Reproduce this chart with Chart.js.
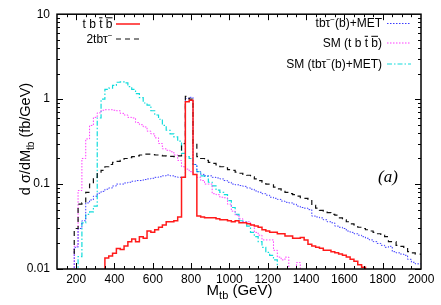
<!DOCTYPE html>
<html>
<head>
<meta charset="utf-8">
<script src="https://cdn.jsdelivr.net/npm/chart.js@4.4.1/dist/chart.umd.min.js"></script>
<style>
  html, body { margin: 0; padding: 0; background: #fff; }
  canvas { display: block; }
</style>
</head>
<body>
<canvas id="myChart" width="441" height="305"></canvas>
<script>
// bin centres of the M_tb histograms (GeV), bins are 20 GeV wide
const massBins = [
  200, 220, 240, 260, 280, 300, 320, 340, 360, 380,
  400, 420, 440, 460, 480, 500, 520, 540, 560, 580,
  600, 620, 640, 660, 680, 700, 720, 740, 760, 780,
  800, 820, 840, 860, 880, 900, 920, 940, 960, 980,
  1000, 1020, 1040, 1060, 1080, 1100, 1120, 1140, 1160, 1180,
  1200, 1220, 1240, 1260, 1280, 1300, 1320, 1340, 1360, 1380,
  1400, 1420, 1440, 1460, 1480, 1500, 1520, 1540, 1560, 1580,
  1600, 1620, 1640, 1660, 1680, 1700, 1720, 1740, 1760, 1780,
  1800, 1820, 1840, 1860, 1880, 1900, 1920, 1940, 1960, 1980,
  2000
];
const binWidth = 20;

// d sigma / dM_tb in fb/GeV, null = below the plotted range
const sigTbtb = [
  null, null, null, null, null, null, null, null, null, .0135,
  .0142, .0153, .0174, .017, .0186, .021, .0225, .021, .024, .023,
  .028, .027, .029, .031, .033, .036, .036, .037, .041, .12,
  .93, .97, .13, .042, .041, .04, .04, .04, .039, .038,
  .038, .037, .036, .037, .035, .035, .034, .033, .032, .031,
  .029, .028, .027, .027, .026, .026, .0245, .0245, .023, .023,
  .0235, .022, .0195, .0186, .018, .0175, .0166, .0166, .016, .0155,
  .015, .0145, .0138, .013, .0123, .0112, .0105, null, null, null,
  null, null, null, null, null, null, null, null, null, null,
  null
];
const sig2tbtau = [
  .015, .03, .058, .06, .08, .1, .12, .135, .145, .16,
  .17, .18, .185, .19, .2, .205, .21, .215, .22, .225,
  .225, .222, .22, .218, .215, .213, .212, .21, .215, .3,
  1.08, 1.0, .3, .21, .2, .19, .18, .175, .168, .16,
  .155, .148, .145, .138, .134, .13, .127, .122, .115, .11,
  .105, .1, .098, .092, .088, .085, .08, .077, .075, .072,
  .069, .068, .066, .056, .052, .049, .048, .046, .044, .043,
  .04, .038, .036, .034, .033, .031, .03, .029, .028, .027,
  .026, .025, .024, .021, .021, .019, .0185, .018, .016, .0155,
  .015
];
const sigTbtauMet = [
  null, .018, .03, .037, .06, .065, .072, .078, .082, .087,
  .09, .095, .1, .1, .103, .105, .108, .11, .11, .113,
  .115, .117, .12, .122, .125, .128, .125, .122, .12, .12,
  1.02, 1.05, .17, .14, .13, .125, .125, .12, .118, .115,
  .11, .105, .1, .098, .096, .094, .09, .087, .083, .08,
  .077, .074, .07, .068, .066, .063, .061, .06, .058, .055,
  .053, .052, .05, .042, .041, .04, .038, .036, .035, .032,
  .031, .03, .028, .027, .026, .025, .024, .023, .022, .021,
  .02, .019, .018, .0185, .016, .0155, .015, .0145, .013, .012,
  .0115
];
const smTbtb = [
  null, .0186, .084, .2, .34, .49, .61, .69, .74, .75,
  .75, .74, .73, .68, .65, .61, .6, .53, .5, .47,
  .42, .39, .35, .3, .26, .25, .24, .22, .19, .16,
  .15, .14, .13, .12, .11, .1, .1, .077, .075, .07,
  .069, .058, .048, .043, .039, .036, .036, .033, .027, .025,
  .022, .022, .022, .0166, .0138, .0128, .0138, null, null, .0119,
  null, null, null, null, null, null, null, null, null, null,
  null, null, null, null, null, null, null, null, null, null,
  null, null, null, null, null, null, null, null, null, null,
  null
];
const smTbtauMet = [
  null, null, .014, .035, .044, .047, .055, .6, 1.0, 1.3,
  1.35, 1.45, 1.58, 1.6, 1.55, 1.4, 1.3, 1.16, 1.04, .9,
  .85, .73, .65, .58, .49, .43, .39, .36, .32, .23,
  .21, .2, .17, .14, .125, .123, .105, .095, .085, .08,
  .075, .064, .053, .044, .037, .036, .032, .027, .024, .021,
  .018, .0157, .0145, .0128, null, null, null, null, null, null,
  null, null, null, null, null, null, null, null, null, null,
  null, null, null, null, null, null, null, null, null, null,
  null, null, null, null, null, null, null, null, null, null,
  null
];

const xTickLabels = [200, 400, 600, 800, 1000, 1200, 1400, 1600, 1800, 2000];
const yTickLabels = [0.01, 0.1, 1, 10];

const SANS = '"Liberation Sans", Arial, Helvetica, sans-serif';
const FLOOR = 1e-4; // lies below the axis, gives the drops to the bottom edge

const series = [
  { values: sigTbtb, color: '#ff1a1a', width: 1.5, dash: [] },
  { values: sig2tbtau, color: '#111111', width: 1.2, dash: [5, 4] },
  { values: sigTbtauMet, color: '#3b3bff', width: 1, dash: [1.5, 1.5] },
  { values: smTbtb, color: '#ff3cff', width: 1, dash: [1.5, 1.5] },
  { values: smTbtauMet, color: '#12dcdc', width: 1.2, dash: [5, 2, 1.5, 2] }
];

// legend text pieces: [text, kind] kind '' | 'sub' | 'sup' | 'bar'
const legendLeft = [
  { runs: [['t b ', ''], ['t', 'bar'], [' ', ''], ['b', 'bar']], s: 0, y: 28 },
  { runs: [['2tb\u03c4', ''], ['\u2212', 'sup']], s: 1, y: 43 }
];
const legendRight = [
  { runs: [['tb\u03c4', ''], ['\u2212', 'sup'], ['(b)+MET', '']], s: 2, y: 27 },
  { runs: [['SM (t b ', ''], ['t', 'bar'], [' ', ''], ['b', 'bar'], [')', '']], s: 3, y: 46.5 },
  { runs: [['SM (tb\u03c4', ''], ['\u2212', 'sup'], ['(b)+MET)', '']], s: 4, y: 67.5 }
];

function histPoints(values) {
  const pts = values.map((v, i) => ({ x: massBins[i] - binWidth / 2, y: v === null ? FLOOR : v }));
  const last = values.length - 1;
  pts.push({ x: massBins[last] + binWidth / 2, y: values[last] === null ? FLOOR : values[last] });
  return pts;
}

function drawRuns(ctx, runs, x, y, size, align) {
  const small = Math.round(size * 0.7);
  const fontOf = k => ((k === 'sub' || k === 'sup') ? small : size) + 'px ' + SANS;
  const widths = runs.map(([t, k]) => { ctx.font = fontOf(k); return ctx.measureText(t).width; });
  const total = widths.reduce((a, b) => a + b, 0);
  let cx = align === 'right' ? x - total : align === 'center' ? x - total / 2 : x;
  ctx.textAlign = 'left';
  ctx.textBaseline = 'alphabetic';
  runs.forEach(([t, k], i) => {
    ctx.font = fontOf(k);
    const dy = k === 'sub' ? size * 0.3 : k === 'sup' ? -size * 0.42 : 0;
    ctx.fillText(t, cx, y + dy);
    if (k === 'bar') {
      ctx.beginPath();
      ctx.lineWidth = 1;
      ctx.moveTo(cx, y - size * 0.85);
      ctx.lineTo(cx + widths[i], y - size * 0.85);
      ctx.stroke();
    }
    cx += widths[i];
  });
}

function sample(ctx, s, x0, x1, y) {
  ctx.save();
  ctx.strokeStyle = s.color;
  ctx.lineWidth = s.width;
  ctx.setLineDash(s.dash);
  ctx.beginPath();
  ctx.moveTo(x0, y);
  ctx.lineTo(x1, y);
  ctx.stroke();
  ctx.restore();
}

const decorations = {
  id: 'decorations',
  afterDraw(chart) {
    const { ctx, chartArea: a, scales: { x, y } } = chart;
    ctx.save();
    ctx.strokeStyle = '#000';
    ctx.fillStyle = '#000';
    ctx.lineWidth = 1;
    ctx.beginPath();
    for (let m = 150; m < 2000; m += 50) {
      const px = Math.round(x.getPixelForValue(m)) + 0.5;
      const len = m % 200 === 0 ? 6 : 3;
      ctx.moveTo(px, a.bottom); ctx.lineTo(px, a.bottom - len);
      ctx.moveTo(px, a.top); ctx.lineTo(px, a.top + len);
    }
    for (let e = -2; e < 1; e++) {
      for (let k = 1; k < 10; k++) {
        const py = Math.round(y.getPixelForValue(k * Math.pow(10, e))) + 0.5;
        const len = k === 1 ? 6 : 3;
        ctx.moveTo(a.left, py); ctx.lineTo(a.left + len, py);
        ctx.moveTo(a.right, py); ctx.lineTo(a.right - len, py);
      }
    }
    ctx.stroke();
    ctx.lineWidth = 1.5;
    ctx.strokeRect(a.left, a.top, a.right - a.left, a.bottom - a.top);

    // axis titles
    drawRuns(ctx, [['M', ''], ['tb', 'sub'], [' (GeV)', '']], (a.left + a.right) / 2 + 0.5, 294.5, 15, 'center');
    ctx.save();
    ctx.translate(30, 139);
    ctx.rotate(-Math.PI / 2);
    drawRuns(ctx, [['d \u03c3/dM', ''], ['tb', 'sub'], [' (fb/GeV)', '']], 0, 0, 14.5, 'center');
    ctx.restore();

    // keys
    legendLeft.forEach(k => {
      drawRuns(ctx, k.runs, 112.5, k.y, 12, 'right');
      sample(ctx, series[k.s], 116, 140, k.y - 4);
    });
    legendRight.forEach(k => {
      drawRuns(ctx, k.runs, 382, k.y, 12, 'right');
      sample(ctx, series[k.s], 387, 411, k.y - 3.5);
    });

    ctx.font = 'italic 17px "Liberation Serif", "Times New Roman", serif';
    ctx.textAlign = 'center';
    ctx.textBaseline = 'alphabetic';
    ctx.fillText('(a)', 388, 182);
    ctx.restore();
  }
};

Chart.defaults.font.family = SANS;
Chart.defaults.color = '#000';

new Chart(document.getElementById('myChart'), {
  type: 'line',
  data: {
    datasets: series.map(s => ({
      data: histPoints(s.values),
      borderColor: s.color,
      borderWidth: s.width,
      borderDash: s.dash,
      borderJoinStyle: 'miter',
      borderCapStyle: 'butt',
      stepped: 'after',
      pointRadius: 0,
      fill: false,
      tension: 0
    }))
  },
  options: {
    responsive: false,
    animation: false,
    layout: { padding: { top: 10, right: 20, left: 0, bottom: 0 } },
    plugins: { legend: { display: false }, tooltip: { enabled: false } },
    scales: {
      x: {
        type: 'linear',
        min: 100,
        max: 2000,
        afterBuildTicks: s => { s.ticks = xTickLabels.map(v => ({ value: v })); },
        afterFit: s => { s.height = 36; },
        grid: { display: false, drawTicks: false, tickLength: 0 },
        border: { display: false },
        ticks: { font: { size: 12 }, color: '#000', padding: 3, maxRotation: 0, autoSkip: false, callback: v => String(v) }
      },
      y: {
        type: 'logarithmic',
        min: 0.01,
        max: 10,
        afterBuildTicks: s => { s.ticks = yTickLabels.map(v => ({ value: v })); },
        afterFit: s => { s.width = 57; },
        grid: { display: false, drawTicks: false, tickLength: 0 },
        border: { display: false },
        ticks: { font: { size: 12 }, color: '#000', padding: 7, autoSkip: false, callback: v => String(v) }
      }
    }
  },
  plugins: [decorations]
});
</script>
</body>
</html>
